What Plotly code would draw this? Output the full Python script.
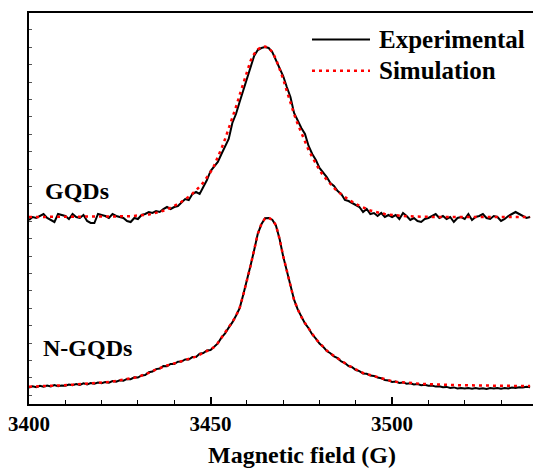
import plotly.graph_objects as go

# Magnetic field grid (G)
field = list(range(3400, 3539))

# GQDs (offset spectrum, arbitrary units)
gqd_exp = [
    184, 187, 186, 188, 190, 186, 184, 182, 190, 189,
    188, 185, 190, 187, 186, 189, 183, 181, 181, 190,
    189, 188, 186, 190, 188, 187, 186, 183, 182, 186,
    185, 189, 190, 192, 191, 193, 192, 195, 197, 195,
    197, 198, 202, 205, 204, 210, 212, 210, 217, 224,
    233, 237, 242, 250, 257, 265, 281, 290, 302, 313,
    325, 337, 348, 354, 356, 357, 356, 352, 344, 336,
    328, 317, 307, 291, 283, 276, 270, 258, 250, 244,
    236, 232, 227, 221, 218, 213, 210, 204, 203, 201,
    199, 197, 192, 195, 190, 191, 188, 191, 187, 189,
    187, 189, 185, 191, 188, 184, 186, 183, 182, 185,
    186, 188, 190, 186, 188, 185, 187, 182, 186, 187,
    185, 190, 184, 187, 188, 190, 186, 185, 188, 187,
    183, 185, 188, 190, 192, 190, 188, 186, 187,
]
gqd_sim = [
    187.0, 187.0, 187.0, 187.0, 187.0, 187.0, 187.0, 187.0, 187.0, 187.0,
    187.0, 187.0, 187.0, 187.0, 187.0, 187.0, 187.0, 187.0, 187.1, 187.1,
    187.2, 187.2, 187.3, 187.3, 187.4, 187.5, 187.6, 187.7, 187.8, 188.0,
    188.2, 188.5, 188.9, 189.5, 190.2, 191.0, 192.0, 193.2, 194.6, 196.2,
    198.0, 200.0, 202.2, 204.6, 207.3, 210.3, 213.6, 217.3, 221.5, 226.3,
    231.8, 238.5, 246.5, 255.5, 265.0, 275.0, 286.0, 297.0, 309.0, 321.0,
    333.0, 343.0, 350.0, 354.5, 357.0, 357.5, 356.0, 352.0, 345.0, 336.0,
    325.0, 313.0, 301.0, 290.0, 280.0, 271.0, 262.0, 254.0, 247.0, 240.0,
    234.0, 228.5, 224.0, 220.0, 216.0, 212.5, 209.5, 207.0, 204.5, 202.0,
    200.0, 198.2, 196.5, 195.0, 193.5, 192.5, 191.5, 190.7, 190.0, 189.5,
    189.0, 188.6, 188.3, 188.0, 187.8, 187.6, 187.4, 187.3, 187.2, 187.1,
    187.0, 187.0, 187.0, 187.0, 187.0, 187.0, 187.0, 187.0, 187.0, 187.0,
    187.0, 187.0, 187.0, 187.0, 187.0, 187.0, 187.0, 187.0, 187.0, 187.0,
    187.0, 187.0, 187.0, 187.0, 187.0, 187.0, 187.0, 187.0, 187.0,
]

# N-GQDs
ngqd_exp = [
    16.5, 17.8, 16.9, 18.1, 17.2, 18.4, 17.5, 18.9, 17.8, 18.6,
    18.2, 19.5, 18.7, 19.9, 19.1, 20.6, 19.6, 21.0, 20.2, 21.5,
    20.8, 21.9, 21.3, 22.9, 22.4, 23.8, 23.3, 25.1, 24.8, 26.7,
    26.4, 28.6, 29.0, 31.8, 32.5, 34.9, 35.4, 37.9, 37.8, 40.1,
    40.0, 42.3, 42.4, 44.6, 44.5, 46.9, 47.0, 50.2, 50.9, 53.6,
    54.0, 57.5, 60.6, 66.4, 70.7, 76.4, 81.6, 88.3, 95.7, 109.2,
    122.6, 138.3, 153.7, 170.2, 179.7, 185.8, 186.0, 184.3, 178.6, 165.3,
    147.6, 133.2, 116.7, 104.3, 94.6, 87.2, 80.6, 75.8, 69.5, 65.3,
    60.5, 57.3, 53.0, 50.8, 47.5, 45.8, 42.5, 41.0, 38.0, 36.8,
    34.0, 32.9, 30.5, 30.2, 28.4, 28.1, 26.4, 25.8, 24.0, 23.6,
    22.1, 22.4, 21.1, 21.6, 20.3, 20.8, 19.5, 19.9, 18.8, 19.2,
    18.2, 18.5, 17.4, 17.8, 16.7, 17.1, 16.0, 16.6, 15.5, 16.1,
    15.4, 15.9, 15.2, 16.0, 15.3, 15.8, 15.1, 15.9, 15.4, 16.1,
    15.3, 15.9, 15.6, 16.4, 16.0, 16.7, 16.4, 17.2, 16.8,
]
ngqd_sim = [
    17.3, 17.4, 17.5, 17.6, 17.7, 17.9, 18.0, 18.2, 18.3, 18.5,
    18.8, 19.0, 19.3, 19.5, 19.8, 20.0, 20.3, 20.5, 20.8, 21.0,
    21.3, 21.6, 22.0, 22.5, 23.0, 23.5, 24.0, 24.7, 25.5, 26.2,
    27.0, 28.2, 29.5, 31.2, 33.0, 34.5, 36.0, 37.3, 38.5, 39.5,
    40.5, 41.8, 43.0, 44.0, 45.0, 46.2, 47.5, 49.5, 51.5, 53.0,
    54.5, 57.0, 61.0, 66.0, 71.0, 76.0, 82.0, 88.0, 96.0, 109.0,
    123.0, 138.0, 154.0, 170.0, 180.0, 185.5, 186.3, 184.0, 179.0, 165.0,
    148.0, 133.0, 117.0, 104.0, 95.0, 87.0, 81.0, 75.5, 70.0, 65.0,
    61.0, 57.0, 53.5, 50.5, 48.0, 45.5, 43.0, 40.7, 38.5, 36.5,
    34.5, 32.7, 31.0, 30.0, 29.0, 28.0, 27.0, 25.7, 24.5, 23.5,
    22.8, 22.3, 21.9, 21.5, 21.2, 20.9, 20.6, 20.4, 20.2, 20.0,
    19.8, 19.6, 19.4, 19.3, 19.2, 19.1, 19.0, 18.9, 18.8, 18.8,
    18.7, 18.6, 18.6, 18.5, 18.5, 18.4, 18.4, 18.3, 18.3, 18.2,
    18.2, 18.2, 18.1, 18.1, 18.1, 18.0, 18.0, 18.0, 18.0,
]

x_ticks = [3400, 3450, 3500]
x_title = "Magnetic field (G)"
legend_labels = ["Experimental", "Simulation"]
sample_labels = ["GQDs", "N-GQDs"]

FONT = "Liberation Serif, Times New Roman, serif"
BLACK = "#000000"
RED = "#ff0000"
DOT = "3px,4px"

fig = go.Figure()
for yexp in (gqd_exp, ngqd_exp):
    fig.add_trace(go.Scatter(x=field, y=yexp, mode="lines",
                             line=dict(color=BLACK, width=2), showlegend=False))
for ysim in (gqd_sim, ngqd_sim):
    fig.add_trace(go.Scatter(x=field, y=ysim, mode="lines",
                             line=dict(color=RED, width=2.5, dash=DOT), showlegend=False))

fig.update_layout(
    width=533, height=468,
    margin=dict(l=29, r=0, t=13, b=64),
    plot_bgcolor="white", paper_bgcolor="white",
    showlegend=False,
    font=dict(family=FONT, color=BLACK),
)
fig.update_xaxes(
    range=[3400, 3538.8], tickvals=x_ticks, ticktext=[str(v) for v in x_ticks],
    ticks="inside", ticklen=7, tickwidth=1.5, tickcolor=BLACK,
    minor=dict(dtick=10, tick0=3400, ticks="inside", ticklen=4, tickwidth=1.2, tickcolor=BLACK),
    showline=True, linecolor=BLACK, linewidth=2, mirror=True,
    showgrid=False, zeroline=False,
    tickfont=dict(family=FONT, size=21, color=BLACK, weight="bold"),
)
fig.update_yaxes(
    range=[0, 391], showticklabels=False,
    ticks="inside", ticklen=3, tickwidth=1, tickcolor="#555555",
    tick0=8.7, dtick=17.4,
    showline=True, linecolor=BLACK, linewidth=2, mirror=False,
    showgrid=False, zeroline=False,
)

# legend drawn manually
leg_y = [0.932, 0.852]
fig.add_shape(type="line", xref="paper", yref="paper", x0=0.5615, x1=0.6766,
              y0=leg_y[0], y1=leg_y[0], line=dict(color=BLACK, width=2))
fig.add_shape(type="line", xref="paper", yref="paper", x0=0.5615, x1=0.6766,
              y0=leg_y[1], y1=leg_y[1], line=dict(color=RED, width=2.5, dash=DOT))
for lab, yy in zip(legend_labels, leg_y):
    fig.add_annotation(text="<b>%s</b>" % lab, xref="paper", yref="paper",
                       x=0.6905, y=yy, xanchor="left", yanchor="middle",
                       showarrow=False, font=dict(family=FONT, size=25, color=BLACK))

fig.add_annotation(text="<b>%s</b>" % sample_labels[0], xref="paper", yref="paper",
                   x=0.027, y=0.545, xanchor="left", yanchor="middle",
                   showarrow=False, font=dict(family=FONT, size=24, color=BLACK))
fig.add_annotation(text="<b>%s</b>" % sample_labels[1], xref="paper", yref="paper",
                   x=0.024, y=0.143, xanchor="left", yanchor="middle",
                   showarrow=False, font=dict(family=FONT, size=24, color=BLACK))

fig.add_annotation(text="<b>%s</b>" % x_title, xref="paper", yref="paper",
                   x=0.541, y=-0.13, xanchor="center", yanchor="middle",
                   showarrow=False, font=dict(family=FONT, size=24, color=BLACK))

fig.write_html("out.html")
